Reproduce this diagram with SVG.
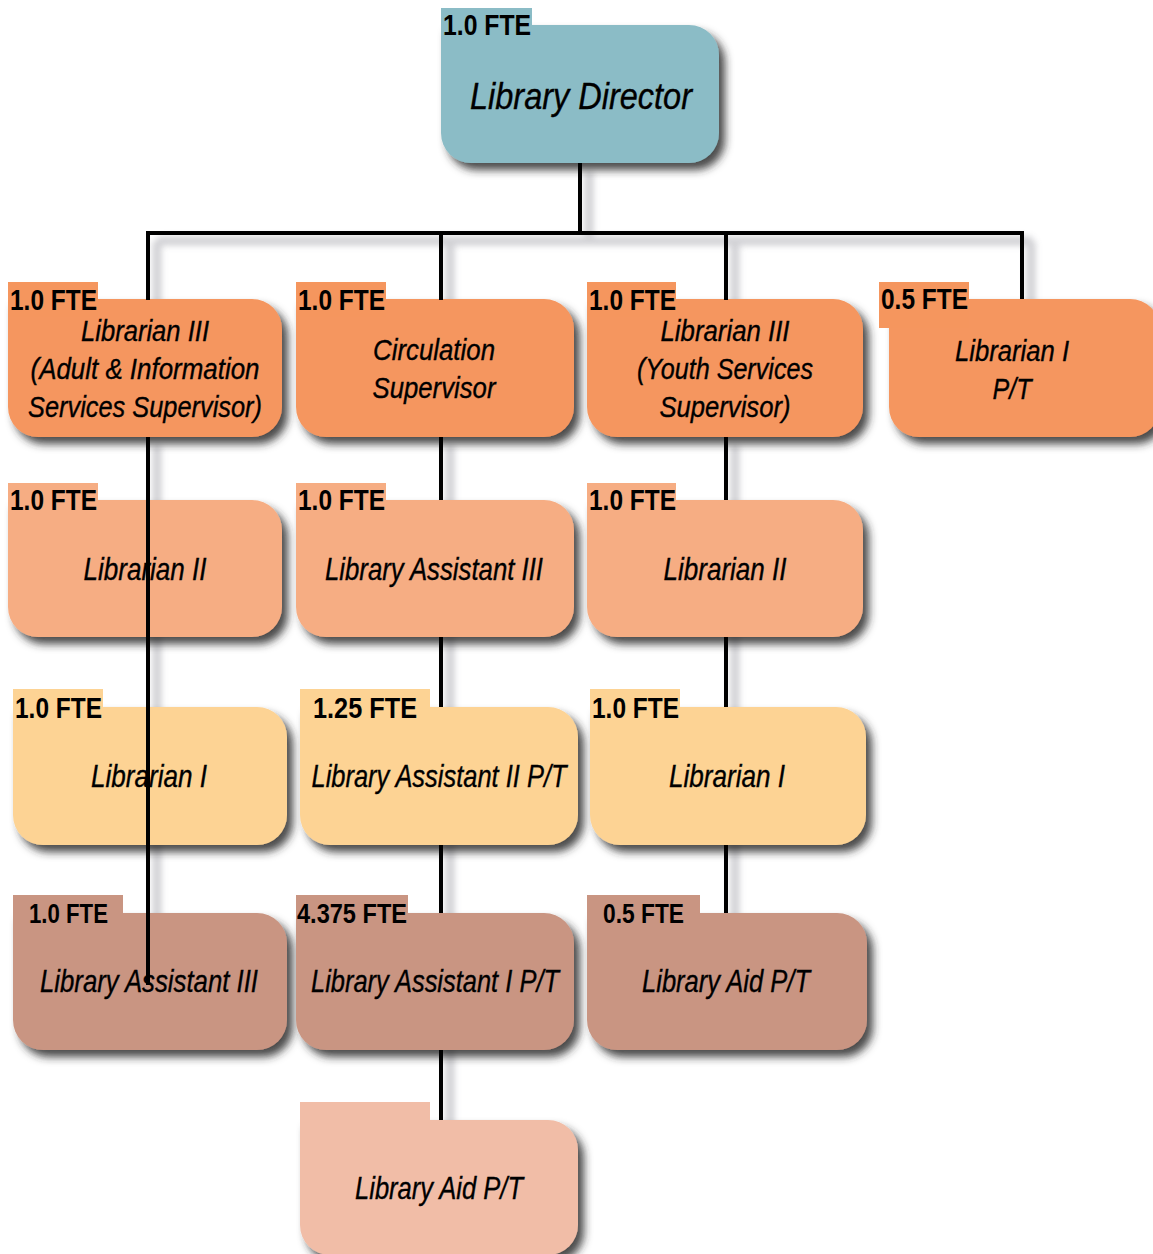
<svg xmlns="http://www.w3.org/2000/svg" width="1153" height="1254" viewBox="0 0 1153 1254">
  <style>
    text { font-family: "Liberation Sans", Arimo, sans-serif; fill: #000; }
    .title { font-style: italic; font-size: 32px; text-anchor: middle; stroke: #000; stroke-width: 0.35; }
    .multi { font-size: 30px; }
    .big { font-size: 37px; }
    .fte { font-weight: bold; font-size: 30px; }
    .fte-sm { font-size: 27px; }
    .box { filter: url(#shadow); }
    .lvl0 { fill: #8BBCC6; }
    .lvl1 { fill: #F5965E; }
    .lvl2 { fill: #F6AD83; }
    .lvl3 { fill: #FDD394; }
    .lvl4 { fill: #C99582; }
    .lvl5 { fill: #F1BDA7; }
    .wire { fill: none; stroke: #000; stroke-width: 4; }
    .wire-shade { fill: none; stroke: #9a9aa2; stroke-width: 9; opacity: 0.45; filter: url(#soft); }
  </style>
  <defs>
    <filter id="shadow" x="-10%" y="-10%" width="130%" height="135%">
      <feGaussianBlur in="SourceAlpha" stdDeviation="4"/>
      <feOffset dx="6" dy="7" result="b"/>
      <feFlood flood-color="#2a2a2a" flood-opacity="0.85"/>
      <feComposite in2="b" operator="in"/>
      <feMerge><feMergeNode/><feMergeNode in="SourceGraphic"/></feMerge>
    </filter>
    <filter id="soft" x="-50%" y="-50%" width="200%" height="200%">
      <feGaussianBlur stdDeviation="3"/>
    </filter>
  </defs>

  <rect width="1153" height="1254" fill="#fff"/>

  <!-- soft shading beside the reporting lines -->
  <g id="connector-shading" transform="translate(9,8)">
    <path class="wire-shade" d="M580 163V233M148 233H1023M148 233V300M441 233V300M726 233V300M1022 233V299"/>
    <path class="wire-shade" d="M148 437V985M441 437V1120M726 437V913"/>
  </g>

  <!-- Library Director -->
  <g id="director">
    <path class="box lvl0" d="M441 25H689A30 30 0 0 1 719 55V133A30 30 0 0 1 689 163H471A30 30 0 0 1 441 133Z"/>
    <rect class="lvl0" x="441" y="8" width="91" height="40"/>
    <text class="fte" x="443" y="35" textLength="88" lengthAdjust="spacingAndGlyphs">1.0 FTE</text>
    <text class="title big" x="581" y="109" textLength="222" lengthAdjust="spacingAndGlyphs">Library Director</text>
  </g>

  <!-- Row 1 -->
  <g id="lib3-adult">
    <path class="box lvl1" d="M8 299H252A30 30 0 0 1 282 329V407A30 30 0 0 1 252 437H38A30 30 0 0 1 8 407Z"/>
    <rect class="lvl1" x="8" y="282" width="90" height="35"/>
    <text class="fte" x="10" y="310" textLength="87" lengthAdjust="spacingAndGlyphs">1.0 FTE</text>
    <text class="title multi" x="145" y="341" textLength="128" lengthAdjust="spacingAndGlyphs">Librarian III</text>
    <text class="title multi" x="145" y="379" textLength="229" lengthAdjust="spacingAndGlyphs">(Adult &amp; Information</text>
    <text class="title multi" x="145" y="417" textLength="234" lengthAdjust="spacingAndGlyphs">Services Supervisor)</text>
  </g>
  <g id="circulation">
    <path class="box lvl1" d="M296 299H544A30 30 0 0 1 574 329V407A30 30 0 0 1 544 437H326A30 30 0 0 1 296 407Z"/>
    <rect class="lvl1" x="296" y="282" width="90" height="35"/>
    <text class="fte" x="298" y="310" textLength="87" lengthAdjust="spacingAndGlyphs">1.0 FTE</text>
    <text class="title multi" x="434" y="360" textLength="122" lengthAdjust="spacingAndGlyphs">Circulation</text>
    <text class="title multi" x="434" y="398" textLength="123" lengthAdjust="spacingAndGlyphs">Supervisor</text>
  </g>
  <g id="lib3-youth">
    <path class="box lvl1" d="M587 299H833A30 30 0 0 1 863 329V407A30 30 0 0 1 833 437H617A30 30 0 0 1 587 407Z"/>
    <rect class="lvl1" x="587" y="282" width="89" height="35"/>
    <text class="fte" x="589" y="310" textLength="87" lengthAdjust="spacingAndGlyphs">1.0 FTE</text>
    <text class="title multi" x="725" y="341" textLength="129" lengthAdjust="spacingAndGlyphs">Librarian III</text>
    <text class="title multi" x="725" y="379" textLength="176" lengthAdjust="spacingAndGlyphs">(Youth Services</text>
    <text class="title multi" x="725" y="417" textLength="131" lengthAdjust="spacingAndGlyphs">Supervisor)</text>
  </g>
  <g id="lib1-pt">
    <path class="box lvl1" d="M889 299H1130A30 30 0 0 1 1160 329V407A30 30 0 0 1 1130 437H919A30 30 0 0 1 889 407Z"/>
    <rect class="lvl1" x="879" y="282" width="90" height="46"/>
    <text class="fte" x="881" y="309" textLength="87" lengthAdjust="spacingAndGlyphs">0.5 FTE</text>
    <text class="title multi" x="1012" y="361" textLength="114" lengthAdjust="spacingAndGlyphs">Librarian I</text>
    <text class="title multi" x="1012" y="399" textLength="39" lengthAdjust="spacingAndGlyphs">P/T</text>
  </g>

  <!-- Row 2 -->
  <g id="lib2-adult">
    <path class="box lvl2" d="M8 500H252A30 30 0 0 1 282 530V607A30 30 0 0 1 252 637H38A30 30 0 0 1 8 607Z"/>
    <rect class="lvl2" x="8" y="483" width="90" height="35"/>
    <text class="fte" x="10" y="510" textLength="87" lengthAdjust="spacingAndGlyphs">1.0 FTE</text>
    <text class="title" x="145" y="580" textLength="123" lengthAdjust="spacingAndGlyphs">Librarian II</text>
  </g>
  <g id="libasst3-circ">
    <path class="box lvl2" d="M296 500H544A30 30 0 0 1 574 530V607A30 30 0 0 1 544 637H326A30 30 0 0 1 296 607Z"/>
    <rect class="lvl2" x="296" y="483" width="90" height="35"/>
    <text class="fte" x="298" y="510" textLength="87" lengthAdjust="spacingAndGlyphs">1.0 FTE</text>
    <text class="title" x="434" y="580" textLength="218" lengthAdjust="spacingAndGlyphs">Library Assistant III</text>
  </g>
  <g id="lib2-youth">
    <path class="box lvl2" d="M587 500H833A30 30 0 0 1 863 530V607A30 30 0 0 1 833 637H617A30 30 0 0 1 587 607Z"/>
    <rect class="lvl2" x="587" y="483" width="89" height="35"/>
    <text class="fte" x="589" y="510" textLength="87" lengthAdjust="spacingAndGlyphs">1.0 FTE</text>
    <text class="title" x="725" y="580" textLength="123" lengthAdjust="spacingAndGlyphs">Librarian II</text>
  </g>

  <!-- Row 3 -->
  <g id="lib1-adult">
    <path class="box lvl3" d="M13 707H257A30 30 0 0 1 287 737V815A30 30 0 0 1 257 845H43A30 30 0 0 1 13 815Z"/>
    <rect class="lvl3" x="13" y="689" width="90" height="36"/>
    <text class="fte" x="15" y="718" textLength="87" lengthAdjust="spacingAndGlyphs">1.0 FTE</text>
    <text class="title" x="149" y="787" textLength="116" lengthAdjust="spacingAndGlyphs">Librarian I</text>
  </g>
  <g id="libasst2-circ">
    <path class="box lvl3" d="M300 707H548A30 30 0 0 1 578 737V815A30 30 0 0 1 548 845H330A30 30 0 0 1 300 815Z"/>
    <rect class="lvl3" x="300" y="689" width="130" height="36"/>
    <text class="fte" x="313" y="718" textLength="104" lengthAdjust="spacingAndGlyphs">1.25 FTE</text>
    <text class="title" x="439" y="787" textLength="255" lengthAdjust="spacingAndGlyphs">Library Assistant II P/T</text>
  </g>
  <g id="lib1-youth">
    <path class="box lvl3" d="M590 707H836A30 30 0 0 1 866 737V815A30 30 0 0 1 836 845H620A30 30 0 0 1 590 815Z"/>
    <rect class="lvl3" x="590" y="689" width="90" height="36"/>
    <text class="fte" x="592" y="718" textLength="87" lengthAdjust="spacingAndGlyphs">1.0 FTE</text>
    <text class="title" x="727" y="787" textLength="116" lengthAdjust="spacingAndGlyphs">Librarian I</text>
  </g>

  <!-- Row 4 -->
  <g id="libasst3-adult">
    <path class="box lvl4" d="M13 913H257A30 30 0 0 1 287 943V1020A30 30 0 0 1 257 1050H43A30 30 0 0 1 13 1020Z"/>
    <rect class="lvl4" x="13" y="895" width="110" height="36"/>
    <text class="fte fte-sm" x="29" y="923" textLength="79" lengthAdjust="spacingAndGlyphs">1.0 FTE</text>
    <text class="title" x="149" y="992" textLength="218" lengthAdjust="spacingAndGlyphs">Library Assistant III</text>
  </g>
  <g id="libasst1-circ">
    <path class="box lvl4" d="M296 913H544A30 30 0 0 1 574 943V1020A30 30 0 0 1 544 1050H326A30 30 0 0 1 296 1020Z"/>
    <rect class="lvl4" x="296" y="895" width="112" height="36"/>
    <text class="fte fte-sm" x="297" y="923" textLength="110" lengthAdjust="spacingAndGlyphs">4.375 FTE</text>
    <text class="title" x="435" y="992" textLength="248" lengthAdjust="spacingAndGlyphs">Library Assistant I P/T</text>
  </g>
  <g id="libaid-youth">
    <path class="box lvl4" d="M587 913H837A30 30 0 0 1 867 943V1020A30 30 0 0 1 837 1050H617A30 30 0 0 1 587 1020Z"/>
    <rect class="lvl4" x="587" y="895" width="113" height="36"/>
    <text class="fte fte-sm" x="603" y="923" textLength="81" lengthAdjust="spacingAndGlyphs">0.5 FTE</text>
    <text class="title" x="726" y="992" textLength="168" lengthAdjust="spacingAndGlyphs">Library Aid P/T</text>
  </g>

  <!-- Row 5 -->
  <g id="libaid-circ">
    <path class="box lvl5" d="M300 1120H548A30 30 0 0 1 578 1150V1225A30 30 0 0 1 548 1255H330A30 30 0 0 1 300 1225Z"/>
    <rect class="lvl5" x="300" y="1102" width="130" height="37"/>
    <text class="title" x="439" y="1199" textLength="168" lengthAdjust="spacingAndGlyphs">Library Aid P/T</text>
  </g>

  <!-- reporting lines -->
  <g id="connectors">
    <path class="wire" d="M580 163V233M146 233H1024M148 233V300M441 233V300M726 233V300M1022 233V299"/>
    <path class="wire" d="M148 437V985"/>
    <path class="wire" d="M441 437V500M441 637V707M441 845V913M441 1050V1120"/>
    <path class="wire" d="M726 437V500M726 637V707M726 845V913"/>
  </g>
</svg>
